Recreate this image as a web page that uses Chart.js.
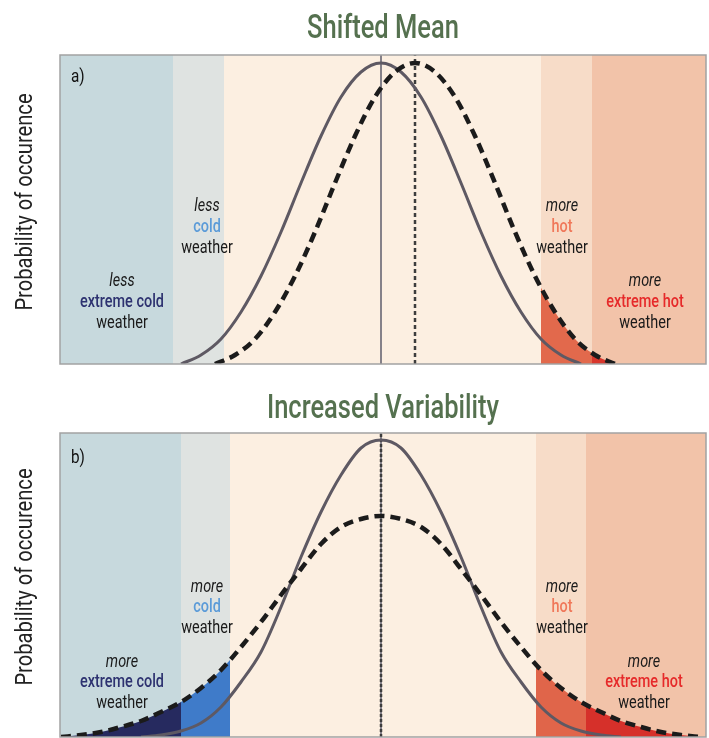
<!DOCTYPE html>
<html><head><meta charset="utf-8">
<script src="https://cdn.jsdelivr.net/npm/chart.js@4"></script>
<style>
html,body{margin:0;padding:0;background:#fff;width:709px;height:738px;overflow:hidden}
canvas{position:absolute;left:0}
#c1{top:0}
#c2{top:370px}
</style></head><body>
<canvas id="c1" width="709" height="370"></canvas>
<canvas id="c2" width="709" height="368"></canvas>
<script>
// ---------------- DATA ----------------
// x axis: temperature (arbitrary units), y axis: relative probability of occurrence
// Panel a) Shifted Mean
const gridA = [-10,-9,-8,-7,-6,-5,-4,-3,-2,-1,0,1,2,3,4,5,6,7,8,9,10];
const meanCurrentA = 0;
const meanShiftedA = 1.7;
const currentA = [0,9,25,52,88,132,181,228,267,292,301,292,267,228,181,132,88,52,25,9,0];
const shiftedA = [0,9,25,52,88,132,181,228,267,292,301,292,267,228,181,132,88,52,25,9,0];
const yMaxA = 309;

// Panel b) Increased Variability
const gridB = [-12,-11,-10,-9,-8,-7,-6,-5,-4,-3,-2,-1,0,1,2,3,4,5,6,7,8,9,10,11,12];
const gridBWide = [-16,-15,-14,-13,-12,-11,-10,-9,-8,-7,-6,-5,-4,-3,-2,-1,0,1,2,3,4,5,6,7,8,9,10,11,12,13,14,15,16];
const meanB = 0;
const currentB = [0,2,6,14,30,55,85,130,180,225,262,289,297,289,262,225,180,130,85,55,30,14,6,2,0];
const widerB = [0,2,5,10,16,25,35,49,67,90,115,142,168,193,210,218,221,218,210,193,168,142,115,90,67,49,35,25,16,10,5,2,0];
const yMaxB = 304;

// Weather categories (band edges on the temperature axis)
const xMin = -16.05, xMax = 16.25;
const bandEdgesA = [xMin, -10.4, -7.85, 8.0, 10.55, xMax];
const bandEdgesB = [xMin, -10.0, -7.55, 7.75, 10.25, xMax];
const bandColors = ['#c7d9dd', '#dfe3e1', '#fcefe1', '#f7dcc8', '#f2c3a9'];

// ---------------- HELPERS ----------------
function pts(grid, mean, vals){ return grid.map((g,i)=>({x: mean + g, y: vals[i]})); }
function vline(xv, ymax){ return [{x: xv, y: 0}, {x: xv, y: ymax}]; }

const COND = 0.76;
function drawText(ctx, s, x, y, font, color, sx, align, base){
  ctx.save();
  ctx.font = font; ctx.fillStyle = color;
  ctx.textAlign = align || 'center'; ctx.textBaseline = base || 'middle';
  ctx.translate(x, y); ctx.scale(sx, 1);
  ctx.fillText(s, 0, 0);
  ctx.restore();
}

const panelPlugin = {
  id: 'panel',
  beforeDatasetsDraw(chart, args, o) {
    const {ctx, chartArea: a, scales: {x, y}} = chart;
    ctx.save();
    const edges = o.bandEdges;
    for (let i = 0; i < bandColors.length; i++) {
      const x0 = x.getPixelForValue(edges[i]), x1 = x.getPixelForValue(edges[i+1]);
      ctx.fillStyle = bandColors[i];
      ctx.fillRect(x0, a.top, x1 - x0, a.bottom - a.top);
    }
    const meta = chart.getDatasetMeta(o.fillDataset);
    const line = meta.dataset;
    if (line.updateControlPoints) line.updateControlPoints(a, 'x');
    const y0 = y.getPixelForValue(0);
    const p = meta.data;
    for (const f of o.fills) {
      const x0 = x.getPixelForValue(f.from), x1 = x.getPixelForValue(f.to);
      ctx.save();
      ctx.beginPath(); ctx.rect(x0, a.top, x1 - x0, a.bottom - a.top); ctx.clip();
      ctx.beginPath();
      if (line.path) { line.path(ctx); }
      else { p.forEach((pt,i)=> i ? ctx.lineTo(pt.x, pt.y) : ctx.moveTo(pt.x, pt.y)); }
      ctx.lineTo(p[p.length-1].x, y0);
      ctx.lineTo(p[0].x, y0);
      ctx.closePath();
      ctx.fillStyle = f.color; ctx.fill();
      ctx.restore();
    }
    ctx.restore();
  },
  afterDraw(chart, args, o) {
    const {ctx, chartArea: a, scales: {x}} = chart;
    ctx.save();
    ctx.strokeStyle = '#a2a2a2'; ctx.lineWidth = 1.5;
    ctx.strokeRect(a.left, a.top, a.right - a.left, a.bottom - a.top);
    ctx.restore();
    // title
    drawText(ctx, o.title, (a.left + a.right)/2, o.titleY, '500 34px Roboto, "Open Sans", sans-serif', '#55714f', 0.75, 'center', 'alphabetic');
    // y label
    ctx.save();
    ctx.translate(26, o.ylabelY); ctx.rotate(-Math.PI/2); ctx.scale(0.84, 1);
    ctx.font = '400 24px Roboto, "Open Sans", sans-serif'; ctx.fillStyle = '#222';
    ctx.textAlign = 'center'; ctx.textBaseline = 'middle';
    ctx.fillText('Probability of occurence', 0, 0);
    ctx.restore();
    // panel letter
    drawText(ctx, o.letter, a.left + 11, o.letterY, '400 18px Roboto, sans-serif', '#111', 0.85, 'left', 'middle');
    // annotations
    for (const g of o.notes) {
      const cx = x.getPixelForValue(g.x);
      drawText(ctx, g.lines[0], cx, g.y[0], 'italic 400 19px Roboto, sans-serif', '#1a1a1a', COND);
      drawText(ctx, g.lines[1], cx, g.y[1], '500 19px Roboto, sans-serif', g.color, COND);
      drawText(ctx, g.lines[2], cx, g.y[2], '400 19px Roboto, sans-serif', '#1a1a1a', COND);
    }
  }
};

function baseOptions(yMax, padding, panelOpts){
  return {
    responsive: false, animation: false, devicePixelRatio: 1,
    layout: { padding },
    scales: {
      x: { type: 'linear', min: xMin, max: xMax, display: false },
      y: { type: 'linear', min: 0, max: yMax, display: false }
    },
    elements: { point: { radius: 0 } },
    plugins: { legend: { display: false }, title: { display: false }, tooltip: { enabled: false }, panel: panelOpts }
  };
}

const solidStyle = { borderColor: '#5e5963', borderWidth: 3, cubicInterpolationMode: 'monotone', fill: false, pointRadius: 0 };
const dashStyle = { borderColor: '#1b1b1b', borderWidth: 4.5, borderDash: [10, 6], cubicInterpolationMode: 'monotone', fill: false, pointRadius: 0 };

// ---------------- CHART A ----------------
new Chart(document.getElementById('c1'), {
  type: 'line',
  data: { datasets: [
    Object.assign({ label: 'Current climate', data: pts(gridA, meanCurrentA, currentA), order: 2 }, solidStyle),
    Object.assign({ label: 'Shifted mean', data: pts(gridA, meanShiftedA, shiftedA), order: 1 }, dashStyle),
    { label: 'mean current', data: vline(meanCurrentA, yMaxA), borderColor: '#858189', borderWidth: 2, pointRadius: 0, order: 3 },
    { label: 'mean shifted', data: vline(meanShiftedA, yMaxA), borderColor: '#3d3d3d', borderWidth: 2.5, borderDash: [4, 3], pointRadius: 0, order: 3 }
  ]},
  options: baseOptions(yMaxA, {left: 60, right: 3, top: 55, bottom: 6}, {
    bandEdges: bandEdgesA, fillDataset: 1,
    fills: [ {from: 8.0, to: 10.55, color: '#e2694c'}, {from: 10.55, to: xMax, color: '#d8362c'} ],
    title: 'Shifted Mean', titleY: 38, ylabelY: 202, letter: 'a)', letterY: 77,
    notes: [
      { x: -12.95, y: [281, 302, 323], lines: ['less', 'extreme cold', 'weather'], color: '#2d3270' },
      { x: -8.7,  y: [206, 227, 248], lines: ['less', 'cold', 'weather'], color: '#5b9bd8' },
      { x: 9.05,  y: [206, 227, 248], lines: ['more', 'hot', 'weather'], color: '#f0785a' },
      { x: 13.2,  y: [281, 302, 323], lines: ['more', 'extreme hot', 'weather'], color: '#e62a2a' }
    ]
  }),
  plugins: [panelPlugin]
});

// ---------------- CHART B ----------------
new Chart(document.getElementById('c2'), {
  type: 'line',
  data: { datasets: [
    Object.assign({ label: 'Current climate', data: pts(gridB, meanB, currentB), order: 2 }, solidStyle),
    Object.assign({ label: 'Increased variability', data: pts(gridBWide, meanB, widerB), order: 1 }, dashStyle),
    { label: 'mean', data: vline(meanB, yMaxB), borderColor: '#858189', borderWidth: 2, pointRadius: 0, order: 4 },
    { label: 'mean dashed', data: vline(meanB, yMaxB), borderColor: '#3d3d3d', borderWidth: 2.5, borderDash: [3, 2], pointRadius: 0, order: 3 }
  ]},
  options: baseOptions(yMaxB, {left: 60, right: 3, top: 63, bottom: 1}, {
    bandEdges: bandEdgesB, fillDataset: 1,
    fills: [ {from: xMin, to: -10.0, color: '#262a5f'}, {from: -10.0, to: -7.55, color: '#3f7bc9'},
             {from: 7.75, to: 10.25, color: '#e0654a'}, {from: 10.25, to: xMax, color: '#d6302a'} ],
    title: 'Increased Variability', titleY: 48, ylabelY: 207, letter: 'b)', letterY: 88,
    notes: [
      { x: -12.95, y: [292, 312, 333], lines: ['more', 'extreme cold', 'weather'], color: '#2d3270' },
      { x: -8.7,  y: [217, 237, 258], lines: ['more', 'cold', 'weather'], color: '#5b9bd8' },
      { x: 9.05,  y: [217, 237, 258], lines: ['more', 'hot', 'weather'], color: '#f0785a' },
      { x: 13.15, y: [292, 312, 333], lines: ['more', 'extreme hot', 'weather'], color: '#e62a2a' }
    ]
  }),
  plugins: [panelPlugin]
});
</script>
</body></html>
